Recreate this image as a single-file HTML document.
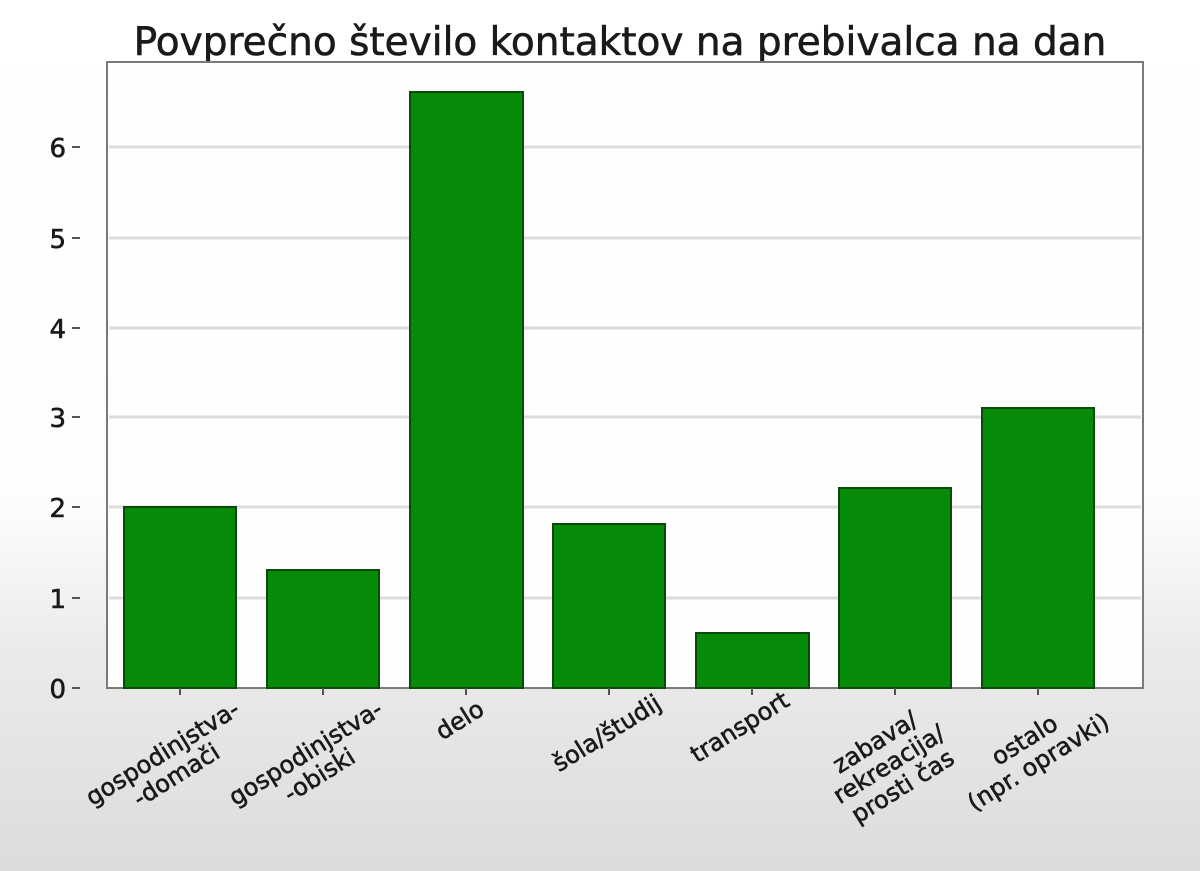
<!DOCTYPE html>
<html><head><meta charset="utf-8"><style>
html,body{margin:0;padding:0}
body{width:1200px;height:871px;overflow:hidden;background:linear-gradient(to bottom,#ffffff 0px,#fdfdfd 500px,#ebebea 650px,#dcdcda 871px);}
svg{display:block}
text{font-family:"DejaVu Sans","Liberation Sans",sans-serif;fill:#1a1a1a;stroke:#1a1a1a;stroke-width:0.6}
</style></head><body>
<svg width="1200" height="871" viewBox="0 0 1200 871">
<text x="620" y="55" font-size="39" text-anchor="middle">Povprečno število kontaktov na prebivalca na dan</text>
<rect x="107" y="62" width="1036" height="626" fill="#fefefe" stroke="#7a7a7a" stroke-width="2"/>
<g stroke="#dcdcdc" stroke-width="3">
<line x1="109" x2="1141" y1="598" y2="598"/>
<line x1="109" x2="1141" y1="507" y2="507"/>
<line x1="109" x2="1141" y1="417" y2="417"/>
<line x1="109" x2="1141" y1="328" y2="328"/>
<line x1="109" x2="1141" y1="238" y2="238"/>
<line x1="109" x2="1141" y1="147" y2="147"/>
</g>
<g font-size="26" text-anchor="end">
<text x="66" y="698">0</text><text x="66" y="608">1</text><text x="66" y="517">2</text>
<text x="66" y="427">3</text><text x="66" y="338">4</text><text x="66" y="248">5</text><text x="66" y="157">6</text>
</g>
<g stroke="#555" stroke-width="2">
<line x1="72" x2="80" y1="688" y2="688"/><line x1="72" x2="80" y1="598" y2="598"/><line x1="72" x2="80" y1="507" y2="507"/>
<line x1="72" x2="80" y1="417" y2="417"/><line x1="72" x2="80" y1="328" y2="328"/><line x1="72" x2="80" y1="238" y2="238"/><line x1="72" x2="80" y1="147" y2="147"/>
</g>
<g fill="#078a07" stroke="#0a4a0a" stroke-width="2">
<rect x="124" y="507" width="112" height="181"/>
<rect x="267" y="570" width="112" height="118"/>
<rect x="410" y="92" width="113" height="596"/>
<rect x="553" y="524" width="112" height="164"/>
<rect x="696" y="633" width="113" height="55"/>
<rect x="839" y="488" width="112" height="200"/>
<rect x="982" y="408" width="112" height="280"/>
</g>
<g stroke="#555" stroke-width="2">
<line x1="180" x2="180" y1="688" y2="695"/><line x1="323" x2="323" y1="688" y2="695"/>
<line x1="466" x2="466" y1="688" y2="695"/><line x1="609" x2="609" y1="688" y2="695"/>
<line x1="752" x2="752" y1="688" y2="695"/><line x1="895" x2="895" y1="688" y2="695"/>
<line x1="1038" x2="1038" y1="688" y2="695"/>
</g>
<g font-size="24" text-anchor="middle">
<text transform="translate(170,765) rotate(-32)"><tspan x="0" y="-6">gospodinjstva-</tspan><tspan x="0" y="20">-domači</tspan></text>
<text transform="translate(313,765) rotate(-32)"><tspan x="0" y="-6">gospodinjstva-</tspan><tspan x="0" y="20">-obiski</tspan></text>
<text transform="translate(464,727) rotate(-32)">delo</text>
<text transform="translate(611,740) rotate(-32)">šola/študij</text>
<text transform="translate(744,734) rotate(-32)">transport</text>
<text transform="translate(890,766) rotate(-32)"><tspan x="0" y="-20">zabava/</tspan><tspan x="0" y="6">rekreacija/</tspan><tspan x="0" y="32">prosti čas</tspan></text>
<text transform="translate(1032,752) rotate(-32)"><tspan x="0" y="-6">ostalo</tspan><tspan x="0" y="20">(npr. opravki)</tspan></text>
</g>
</svg>
</body></html>
